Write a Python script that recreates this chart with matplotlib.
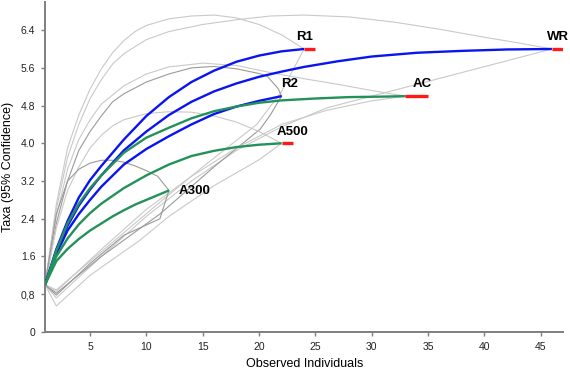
import matplotlib

matplotlib.use("Agg")
import matplotlib.pyplot as plt

plt.rcParams["font.family"] = ["Liberation Sans", "DejaVu Sans"]

# rarefaction curves (observed individuals vs taxa)
r1_x = [1, 2, 3, 4, 5, 6, 8, 10, 12, 14, 16, 18, 20, 22, 24]
r1_y = [1, 1.75, 2.35, 2.85, 3.22, 3.52, 4.08, 4.58, 4.98, 5.3, 5.54, 5.73, 5.86, 5.95, 6.0]
wr_x = [1, 2, 3, 4, 5, 6, 8, 10, 12, 14, 16, 18, 20, 22, 24, 27, 30, 34, 38, 42, 46]
wr_y = [1, 1.7, 2.25, 2.68, 3.02, 3.32, 3.85, 4.25, 4.6, 4.88, 5.1, 5.27, 5.41, 5.52, 5.62, 5.74, 5.84, 5.92, 5.96, 5.99, 6.0]
r2_x = [1, 2, 3, 4, 5, 6, 8, 10, 12, 14, 16, 18, 20, 22]
r2_y = [1, 1.65, 2.15, 2.5, 2.8, 3.08, 3.55, 3.88, 4.15, 4.4, 4.62, 4.78, 4.9, 5.0]
ac_x = [1, 2, 3, 4, 5, 6, 8, 10, 12, 14, 16, 18, 20, 22, 25, 28, 31, 33]
ac_y = [1, 1.72, 2.3, 2.72, 3.05, 3.32, 3.8, 4.12, 4.33, 4.53, 4.68, 4.78, 4.86, 4.91, 4.95, 4.98, 4.99, 5.0]
a500_x = [1, 2, 3, 4, 5, 6, 8, 10, 12, 14, 16, 18, 20, 22]
a500_y = [1, 1.6, 1.98, 2.28, 2.52, 2.72, 3.05, 3.32, 3.55, 3.73, 3.84, 3.92, 3.97, 4.0]
a300_x = [1, 2, 3, 4, 5, 6, 7, 8, 9, 10, 11, 12]
a300_y = [1, 1.5, 1.76, 1.97, 2.15, 2.3, 2.45, 2.58, 2.7, 2.8, 2.9, 3.0]

names = ["R1", "WR", "R2", "AC", "A500", "A300"]
curve_x = [r1_x, wr_x, r2_x, ac_x, a500_x, a300_x]
curve_y = [r1_y, wr_y, r2_y, ac_y, a500_y, a300_y]
curve_group = ["R", "R", "R", "A", "A", "A"]

# red end markers (x from, x to, y)
end_names = ["R1", "WR", "AC", "A500"]
end_x0 = [24, 46, 33, 22]
end_x1 = [25, 47, 35, 23]
end_y = [6.0, 6.0, 5.0, 4.0]

# 95% confidence bounds
upper_x = [
    [1, 2, 3, 4, 5, 6, 7, 8, 9, 10, 12, 14, 16, 18, 20, 22, 24],
    [1, 2, 3, 4, 5, 6, 7, 8, 10, 12, 15, 18, 21, 24, 28, 32, 36, 40, 43, 46],
    [1, 2, 3, 4, 5, 6, 7, 8, 10, 12, 14, 16, 18, 20, 20.7, 21.7, 22],
    [1, 2, 3, 4, 5, 6, 8, 10, 12, 15, 18, 21, 24, 27, 30, 33],
    [1, 2, 3, 4, 5, 6, 7, 8, 10, 12, 14, 16, 18, 20, 22],
    [1, 2, 3, 4, 5, 6, 7, 8, 9, 10, 11, 12],
]
upper_y = [
    [1, 2.7, 3.9, 4.6, 5.15, 5.58, 5.92, 6.18, 6.37, 6.5, 6.64, 6.7, 6.72, 6.66, 6.52, 6.3, 6.0],
    [1, 2.6, 3.7, 4.4, 4.95, 5.35, 5.68, 5.9, 6.2, 6.37, 6.52, 6.62, 6.7, 6.72, 6.68, 6.57, 6.42, 6.25, 6.13, 6.0],
    [1, 2.3, 3.2, 3.85, 4.25, 4.58, 4.88, 5.05, 5.3, 5.47, 5.6, 5.63, 5.58, 5.48, 5.43, 5.16, 5.0],
    [1, 2.45, 3.45, 4.08, 4.5, 4.83, 5.22, 5.47, 5.62, 5.7, 5.65, 5.5, 5.37, 5.25, 5.12, 5.0],
    [1, 2.2, 3.0, 3.5, 3.9, 4.17, 4.37, 4.5, 4.63, 4.67, 4.66, 4.58, 4.45, 4.25, 4.0],
    [1, 2.5, 3.2, 3.45, 3.58, 3.64, 3.64, 3.6, 3.52, 3.42, 3.3, 3.0],
]
lower_x = [
    [1, 2, 6, 11.2, 15, 19.8, 22, 24],
    [1, 2, 6, 10, 14, 18, 22, 26, 30, 34, 38, 42, 46],
    [1, 2, 6, 11.2, 16, 20.1, 21, 22],
    [1, 2, 6, 10, 14, 18, 22, 26, 30, 33],
    [1, 2, 5, 9.4, 12, 16, 20, 22],
    [1, 2, 5, 8, 11.2, 12],
]
lower_y = [
    [1, 0.89, 1.7, 2.75, 3.5, 4.4, 5.1, 6.0],
    [1, 0.72, 1.6, 2.45, 3.2, 3.85, 4.35, 4.75, 5.0, 5.25, 5.5, 5.75, 6.0],
    [1, 0.82, 1.6, 2.5, 3.5, 4.3, 4.6, 5.0],
    [1, 0.86, 1.75, 2.6, 3.3, 3.9, 4.4, 4.7, 4.9, 5.0],
    [1, 0.55, 1.2, 1.94, 2.45, 3.1, 3.65, 4.0],
    [1, 0.78, 1.45, 2.05, 2.4, 3.0],
]
ci_dark = [False, False, True, False, False, True]

x_ticks = [5, 10, 15, 20, 25, 30, 35, 40, 45]
y_ticks = [0, 0.8, 1.6, 2.4, 3.2, 4.0, 4.8, 5.6, 6.4]
y_tick_labels = ["0", "0,8", "1.6", "2.4", "3.2", "4.0", "4.8", "5.6", "6.4"]

label_dx = [-0.7, -0.4, 0.0, 0.6, -0.4, 0.9]
label_dy = [0.12, 0.12, 0.12, 0.12, 0.12, -0.02]
label_va = ["bottom", "bottom", "bottom", "bottom", "bottom", "center"]

BLUE = "#0a14f0"
GREEN = "#23915a"
RED = "#ff1a1a"
AXIS = "#7f7f7f"

fig = plt.figure(figsize=(5.7, 3.7), dpi=100)
ax = fig.add_axes([0.079, 0.103, 0.909, 0.892])

for ux, uy, lx, ly, dark in zip(upper_x, upper_y, lower_x, lower_y, ci_dark):
    c = "#9a9a9a" if dark else "#c9c9c9"
    ax.plot(ux, uy, color=c, lw=0.8, zorder=1)
    ax.plot(lx, ly, color=c, lw=0.8, zorder=1)

for cx, cy, g in zip(curve_x, curve_y, curve_group):
    ax.plot(cx, cy, color=BLUE if g == "R" else GREEN, lw=1.7, zorder=3,
            solid_capstyle="butt")

for x0, x1, y in zip(end_x0, end_x1, end_y):
    ax.plot([x0, x1], [y, y], color=RED, lw=2.4, zorder=4, solid_capstyle="butt")

for n, cx, cy, dx, dy, va in zip(names, curve_x, curve_y, label_dx, label_dy, label_va):
    ax.text(cx[-1] + dx, cy[-1] + dy, n, fontsize=9.5, fontweight="bold",
            va=va, ha="left", zorder=5)

ax.set_xlim(1, 47)
ax.set_ylim(0, 7)
ax.set_xticks(x_ticks)
ax.set_yticks(y_ticks)
ax.set_yticklabels(y_tick_labels)
for s in ["top", "right"]:
    ax.spines[s].set_visible(False)
for s in ["left", "bottom"]:
    ax.spines[s].set_color(AXIS)
    ax.spines[s].set_linewidth(1.4)
ax.tick_params(axis="both", colors=AXIS, length=3, width=1, labelsize=7.5,
               labelcolor="#222222", pad=4)
ax.set_xlabel("Observed Individuals", fontsize=9)
ax.set_ylabel("Taxa (95% Confidence)", fontsize=9)
ax.xaxis.set_label_coords(0.502, -0.08)
ax.yaxis.set_label_coords(-0.06, 0.5)

fig.savefig("out.png", dpi=100)
